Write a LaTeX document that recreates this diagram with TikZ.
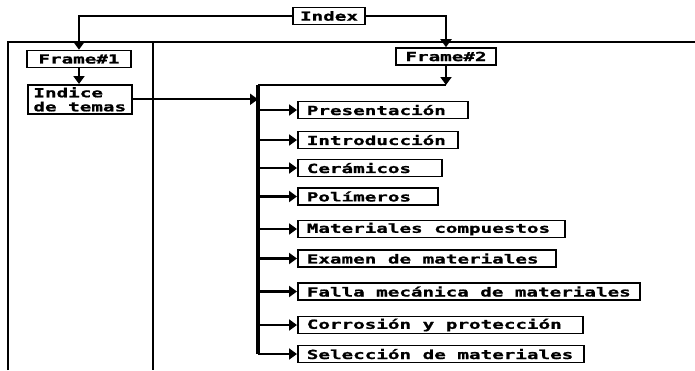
\documentclass[tikz,border=0pt]{standalone}
\usepackage{fontspec}
\newfontfamily\pix{DejaVu Sans Mono Bold}[FakeStretch=1.54,FakeBold=1.2]
\usetikzlibrary{arrows.meta}
\begin{document}
\begin{tikzpicture}[x=1pt,y=-1pt,
  font=\fontsize{12.5}{14}\pix\selectfont,
  box/.style={draw,line width=1.6pt,inner ysep=0pt,minimum height=17pt},
  item/.style={box,anchor=west,inner xsep=9pt,
    execute at begin node={\hbox to #1\bgroup},
    execute at end node={\hfil\egroup}},
  conn/.style={line width=2.2pt,-{Triangle[length=8pt,width=11pt]}},
  plain/.style={line width=2.2pt},
  frame/.style={line width=1.6pt}]
\useasboundingbox (0,0) rectangle (695,370);
% frame
\draw[frame] (8,370) -- (8,42) -- (695,42);
\draw[frame] (153,42) -- (153,370);
% nodes
\node[box,minimum width=72pt] (idx) at (329,16) {Index};
\node[box,minimum width=104pt] (f1) at (79,59) {Frame\#1};
\node[box,minimum width=100pt] (f2) at (446,56.5) {Frame\#2};
\node[box,anchor=north west,minimum width=104pt,minimum height=29pt,inner xsep=4pt,align=left] (ind) at (27,84) {Indice\\de temas};
\coordinate (bustop) at (258,85);
\coordinate (busbot) at (258,354);
\node[item=152pt] (i1) at (297,110) {Presentación};
\node[item=142pt] (i2) at (297,140) {Introducción};
\node[item=126pt] (i3) at (297,168) {Cerámicos};
\node[item=122pt] (i4) at (297,196.5) {Polímeros};
\node[item=249pt] (i5) at (297,229) {Materiales compuestos};
\node[item=240pt] (i6) at (297,258.5) {Examen de materiales};
\node[item=324pt] (i7) at (297,291.5) {Falla mecánica de materiales};
\node[item=267pt] (i8) at (297,325) {Corrosión y protección};
\node[item=268pt] (i9) at (297,354) {Selección de materiales};
% connectors
\draw[conn] (idx.west) -| (f1.north);
\draw[conn] (idx.east) -| (f2.north);
\draw[conn] (f1.south) -- (ind.north -| f1.south);
\draw[conn] (ind.east) -- (ind.east -| bustop);
\draw[plain] (bustop) -- (f2.south |- bustop);
\draw[conn] (f2.south) -- (f2.south |- bustop);
\draw[line width=3.5pt] (bustop) -- (busbot);
\foreach \i in {1,...,9}{
  \draw[conn] (bustop |- i\i.west) -- (i\i.west);
}
\end{tikzpicture}
\end{document}
